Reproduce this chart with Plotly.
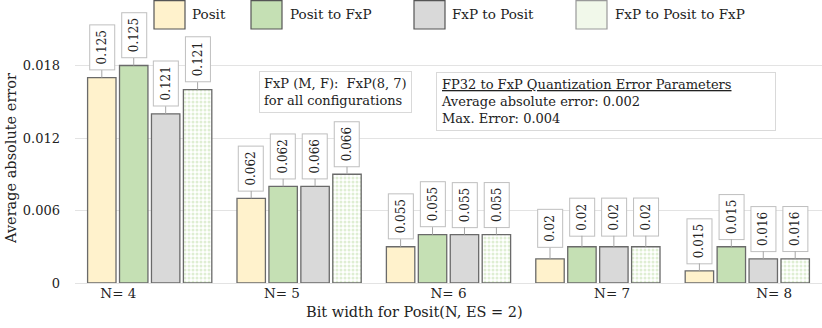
import plotly.graph_objects as go

# ---------------- data ----------------
categories = ["N= 4", "N= 5", "N= 6", "N= 7", "N= 8"]
series_names = ["Posit", "Posit to FxP", "FxP to Posit", "FxP to Posit to FxP"]
posit = [0.017, 0.007, 0.003, 0.002, 0.001]
posit_to_fxp = [0.018, 0.008, 0.004, 0.003, 0.003]
fxp_to_posit = [0.014, 0.008, 0.004, 0.003, 0.002]
fxp_posit_fxp = [0.016, 0.009, 0.004, 0.003, 0.002]
# max-error data labels shown in boxes above bars
posit_max = ["0.125", "0.062", "0.055", "0.02", "0.015"]
posit_to_fxp_max = ["0.125", "0.062", "0.055", "0.02", "0.015"]
fxp_to_posit_max = ["0.121", "0.066", "0.055", "0.02", "0.016"]
fxp_posit_fxp_max = ["0.121", "0.066", "0.055", "0.02", "0.016"]
y_ticks = [0, 0.006, 0.012, 0.018]
y_ticktext = ["0", "0.006", "0.012", "0.018"]

values = [posit, posit_to_fxp, fxp_to_posit, fxp_posit_fxp]
labels = [posit_max, posit_to_fxp_max, fxp_to_posit_max, fxp_posit_fxp_max]

# ---------------- style ----------------
FONT = "DejaVu Serif"
fills = ["#FFF2CC", "#C5E0B4", "#D9D9D9", "white"]
edge = "#6A6A6A"
W, H = 822, 328
ML, MR, MT, MB = 75, 0, 28, 45
PW, PH = W - ML - MR, H - MT - MB
BARGAP = 0.145
BARGROUPGAP = 0.11

def px_x(px):
    return (px - ML) / PW

def px_y(py):
    return (H - MB - py) / PH

xs = list(range(len(categories)))
fig = go.Figure()
for k, (name, vals) in enumerate(zip(series_names, values)):
    marker = dict(color=fills[k], line=dict(color=edge, width=1.3))
    if k == 3:
        marker["pattern"] = dict(shape=".", fgcolor="#BFDDA8", bgcolor="white",
                                 size=4, solidity=0.45)
    fig.add_trace(go.Bar(x=xs, y=vals, name=name, marker=marker,
                         showlegend=False, hoverinfo="skip"))

# data label boxes above bars
slot = (1 - BARGAP) / len(series_names)
annotations = []
for k in range(len(series_names)):
    for i in xs:
        annotations.append(dict(
            x=i + (k - 1.5) * slot, y=values[k][i], xref="x", yref="y",
            text=labels[k][i], textangle=-90, showarrow=True, arrowhead=0,
            arrowwidth=1, arrowcolor="#A6A6A6", ax=0, ay=-30, standoff=0,
            bgcolor="white", bordercolor="#BFBFBF", borderwidth=1, borderpad=5,
            font=dict(family=FONT, size=12, color="#222")))

# info boxes
annotations.append(dict(
    x=px_x(259), y=px_y(71), xref="paper", yref="paper", xanchor="left",
    yanchor="top", align="left", showarrow=False,
    text="FxP (M, F):\u00a0 FxP(8, 7)<br>for all configurations",
    bgcolor="white", bordercolor="#D9D9D9", borderwidth=1, borderpad=4,
    font=dict(family=FONT, size=13, color="#222")))
annotations.append(dict(
    x=px_x(436), y=px_y(72), xref="paper", yref="paper", xanchor="left",
    yanchor="top", align="left", showarrow=False, width=330,
    text="<u>FP32 to FxP Quantization Error Parameters</u><br>"
         "Average absolute error: 0.002<br>Max. Error: 0.004",
    bgcolor="white", bordercolor="#D9D9D9", borderwidth=1, borderpad=4,
    font=dict(family=FONT, size=13, color="#222")))

# axis titles
annotations.append(dict(x=px_x(414), y=px_y(312), xref="paper", yref="paper",
                        xanchor="center", yanchor="middle",
                        text="Bit width for Posit(N, ES = 2)", showarrow=False,
                        font=dict(family=FONT, size=14.5, color="#222")))
annotations.append(dict(x=px_x(11), y=px_y(159), xref="paper", yref="paper",
                        xanchor="center", yanchor="middle",
                        text="Average absolute error", textangle=-90,
                        showarrow=False,
                        font=dict(family=FONT, size=14.5, color="#222")))

# legend (manual, large swatches)
shapes = []
sw_left = [154, 251, 414, 576]
tx_left = [190, 288, 450, 613]
for k, name in enumerate(series_names):
    shapes.append(dict(type="rect", xref="paper", yref="paper",
                       x0=px_x(sw_left[k]), x1=px_x(sw_left[k] + 31),
                       y0=px_y(29), y1=px_y(0.7),
                       fillcolor=fills[k] if k < 3 else "#F1F8EA",
                       line=dict(color="#555" if k < 3 else "#999", width=1.2)))
    annotations.append(dict(x=px_x(tx_left[k]), y=px_y(14), xref="paper",
                            yref="paper", xanchor="left", yanchor="middle",
                            text=name, showarrow=False,
                            font=dict(family=FONT, size=13.5, color="#222")))

tick_offsets = [-0.21, -0.115, 0.0, 0.095, 0.18]
fig.update_layout(
    width=W, height=H, margin=dict(l=ML, r=MR, t=MT, b=MB),
    paper_bgcolor="white", plot_bgcolor="white",
    barmode="group", bargap=BARGAP, bargroupgap=BARGROUPGAP,
    font=dict(family=FONT, size=13, color="#222"),
    xaxis=dict(range=[-0.5, len(categories) - 0.5],
               tickvals=[i + o for i, o in zip(xs, tick_offsets)],
               ticktext=categories, showgrid=False, zeroline=False,
               showline=False, ticks="", tickfont=dict(size=13.5)),
    yaxis=dict(range=[0, PH * 0.006 / 72.5], tickvals=y_ticks,
               ticktext=y_ticktext, showgrid=True, gridcolor="#E3E3E3",
               gridwidth=1, zeroline=True, zerolinecolor="#E3E3E3",
               zerolinewidth=1, showline=False, ticks="",
               ticklabelstandoff=14, tickfont=dict(size=13)),
    annotations=annotations, shapes=shapes,
)
fig.write_html("out.html", config={"displayModeBar": False},
               post_script="document.body.style.margin='0';"
                           "document.body.style.overflow='hidden';")
